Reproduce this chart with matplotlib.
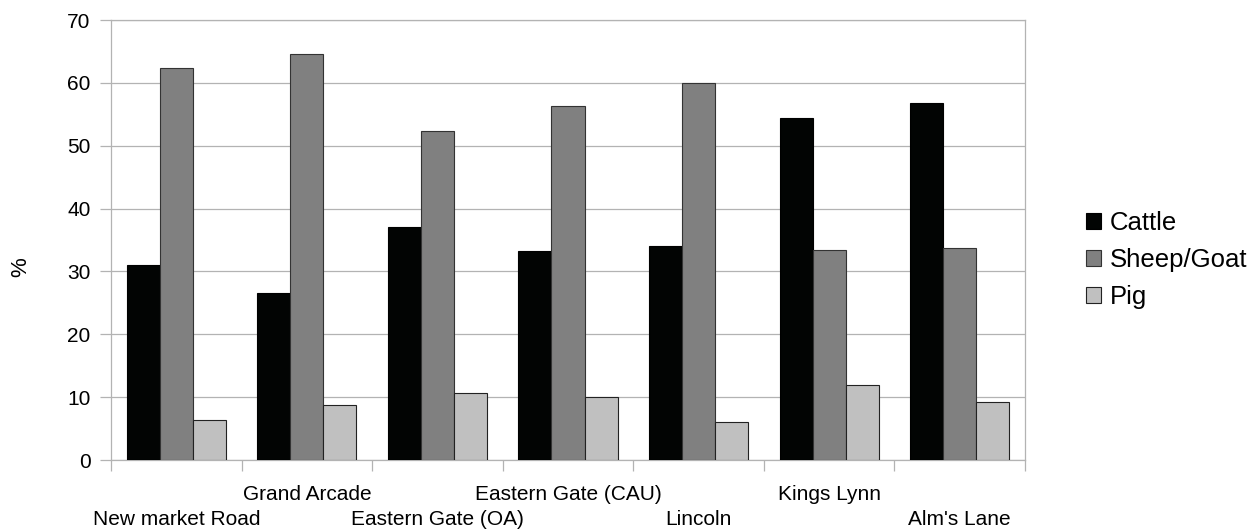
import matplotlib
matplotlib.use("Agg")
import matplotlib.pyplot as plt
import numpy as np

plt.rcParams['font.family'] = ['Liberation Sans', 'DejaVu Sans']

sites = ["New market Road", "Grand Arcade", "Eastern Gate (OA)", "Eastern Gate (CAU)",
         "Lincoln", "Kings Lynn", "Alm's Lane"]
series_names = ["Cattle", "Sheep/Goat", "Pig"]
cattle = [31.1, 26.5, 37.0, 33.2, 34.0, 54.4, 56.8]
sheep_goat = [62.4, 64.6, 52.3, 56.3, 60.0, 33.4, 33.8]
pig = [6.3, 8.8, 10.6, 10.1, 6.0, 12.0, 9.3]
y_ticks = [0, 10, 20, 30, 40, 50, 60, 70]

colors = ["#020403", "#808080", "#c0c0c0"]
edge = ["#000000", "#333333", "#222222"]

W, H = 1258, 529
fig = plt.figure(figsize=(W / 100, H / 100), dpi=100)
L, R, T, B = 111, 1025, 20, 460
ax = fig.add_axes([L / W, 1 - B / H, (R - L) / W, (B - T) / H])

x = np.arange(len(sites))
bw = 0.253
data = [cattle, sheep_goat, pig]
for i, (vals, name) in enumerate(zip(data, series_names)):
    ax.bar(x + (i - 1) * bw, vals, width=bw, color=colors[i], edgecolor=edge[i],
           linewidth=0.8, label=name, zorder=3)

grid_c = "#b3b3b3"
ax.set_xlim(-0.5, len(sites) - 0.5)
ax.set_ylim(0, 70)
ax.set_yticks(y_ticks)
ax.set_yticklabels([str(v) for v in y_ticks], fontsize=15)
ax.yaxis.grid(True, color=grid_c, linewidth=0.9, zorder=0)
ax.set_axisbelow(True)
for s in ax.spines.values():
    s.set_color(grid_c)
    s.set_linewidth(0.9)

ax.set_xticks(np.arange(len(sites) + 1) - 0.5)
ax.set_xticklabels([])
ax.tick_params(axis='both', direction='out', length=8, width=0.9, color=grid_c)
ax.tick_params(axis='y', pad=6.7, labelcolor='black')

trans = ax.get_xaxis_transform()
for i, name in enumerate(sites):
    yy = -0.1466 if i % 2 == 0 else -0.0909
    ax.text(i, yy, name, transform=trans, ha='center', va='baseline', fontsize=15)

ax.set_ylabel('%', fontsize=16, va='center')
ax.yaxis.set_label_coords((21 - L) / (R - L), (B - 267) / (B - T))

leg = ax.legend(loc='center left', bbox_to_anchor=(1086 / W, 1 - 260 / H),
                bbox_transform=fig.transFigure, frameon=False, fontsize=18.5,
                borderpad=0, borderaxespad=0, handlelength=0.6, handleheight=0.6,
                handletextpad=0.31, labelspacing=0.51)

fig.savefig("out.png", dpi=100)
